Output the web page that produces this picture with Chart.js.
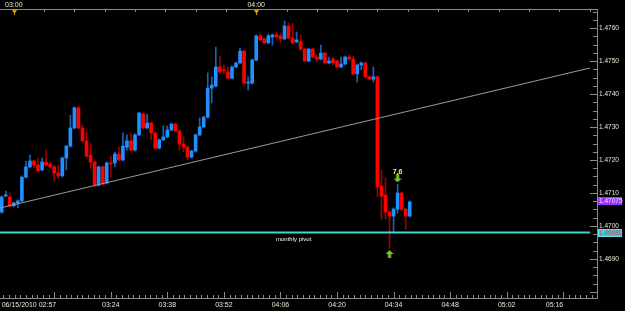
<!DOCTYPE html>
<html>
<head>
<meta charset="utf-8">
<script src="https://cdn.jsdelivr.net/npm/chart.js@4/dist/chart.umd.min.js"></script>
<style>
  html, body { margin: 0; padding: 0; background: #000; }
  canvas { display: block; }
</style>
</head>
<body>
<canvas id="c" width="625" height="311"></canvas>
<script>
// 1-minute EUR/USD-style candles, 06/15/2010 02:57 .. 04:38
const times = [
  '02:57','02:58','02:59','03:00','03:01','03:02','03:03','03:04','03:05','03:06',
  '03:07','03:08','03:09','03:10','03:11','03:12','03:13','03:14','03:15','03:16',
  '03:17','03:18','03:19','03:20','03:21','03:22','03:23','03:24','03:25','03:26',
  '03:27','03:28','03:29','03:30','03:31','03:32','03:33','03:34','03:35','03:36',
  '03:37','03:38','03:39','03:40','03:41','03:42','03:43','03:44','03:45','03:46',
  '03:47','03:48','03:49','03:50','03:51','03:52','03:53','03:54','03:55','03:56',
  '03:57','03:58','03:59','04:00','04:01','04:02','04:03','04:04','04:05','04:06',
  '04:07','04:08','04:09','04:10','04:11','04:12','04:13','04:14','04:15','04:16',
  '04:17','04:18','04:19','04:20','04:21','04:22','04:23','04:24','04:25','04:26',
  '04:27','04:28','04:29','04:30','04:31','04:32','04:33','04:34','04:35','04:36',
  '04:37','04:38'
];
const open = [
  1.47042,1.47091,1.47088,1.47061,1.47070,1.47076,1.47148,1.47179,1.47197,1.47185,
  1.47170,1.47194,1.47188,1.47179,1.47161,1.47152,1.47206,1.47242,1.47297,1.47358,
  1.47297,1.47258,1.47215,1.47194,1.47124,1.47179,1.47130,1.47191,1.47191,1.47218,
  1.47200,1.47239,1.47258,1.47230,1.47276,1.47339,1.47297,1.47312,1.47282,1.47236,
  1.47261,1.47270,1.47291,1.47309,1.47288,1.47248,1.47239,1.47209,1.47227,1.47276,
  1.47300,1.47330,1.47418,1.47424,1.47482,1.47473,1.47467,1.47448,1.47482,1.47494,
  1.47530,1.47433,1.47433,1.47503,1.47576,1.47567,1.47555,1.47573,1.47579,1.47576,
  1.47567,1.47606,1.47570,1.47558,1.47558,1.47536,1.47500,1.47536,1.47512,1.47506,
  1.47524,1.47494,1.47506,1.47500,1.47482,1.47491,1.47512,1.47506,1.47461,1.47488,
  1.47494,1.47452,1.47445,1.47452,1.47121,1.47094,1.47042,1.47030,1.47051,1.47100,
  1.47051,1.47030
];
const high = [
  1.47091,1.47106,1.47100,1.47073,1.47079,1.47152,1.47197,1.47215,1.47200,1.47206,
  1.47206,1.47230,1.47194,1.47185,1.47185,1.47209,1.47245,1.47336,1.47361,1.47364,
  1.47306,1.47285,1.47252,1.47197,1.47182,1.47182,1.47194,1.47212,1.47224,1.47239,
  1.47282,1.47276,1.47279,1.47279,1.47345,1.47342,1.47339,1.47315,1.47285,1.47264,
  1.47303,1.47303,1.47312,1.47312,1.47291,1.47270,1.47242,1.47230,1.47279,1.47327,
  1.47333,1.47464,1.47452,1.47542,1.47515,1.47488,1.47482,1.47485,1.47497,1.47539,
  1.47533,1.47452,1.47506,1.47579,1.47582,1.47570,1.47582,1.47582,1.47588,1.47585,
  1.47621,1.47615,1.47615,1.47588,1.47579,1.47539,1.47539,1.47539,1.47518,1.47548,
  1.47527,1.47512,1.47512,1.47503,1.47512,1.47515,1.47518,1.47515,1.47491,1.47497,
  1.47497,1.47455,1.47482,1.47455,1.47170,1.47145,1.47045,1.47055,1.47127,1.47103,
  1.47055,1.47076
];
const low = [
  1.47039,1.47088,1.47058,1.47058,1.47055,1.47073,1.47145,1.47176,1.47176,1.47164,
  1.47167,1.47182,1.47176,1.47136,1.47145,1.47148,1.47170,1.47239,1.47294,1.47294,
  1.47255,1.47209,1.47176,1.47121,1.47121,1.47124,1.47127,1.47148,1.47179,1.47197,
  1.47197,1.47230,1.47227,1.47227,1.47273,1.47294,1.47294,1.47261,1.47233,1.47233,
  1.47258,1.47267,1.47288,1.47285,1.47230,1.47224,1.47200,1.47206,1.47224,1.47273,
  1.47297,1.47327,1.47373,1.47421,1.47464,1.47461,1.47445,1.47445,1.47479,1.47491,
  1.47430,1.47412,1.47430,1.47500,1.47561,1.47552,1.47552,1.47548,1.47570,1.47555,
  1.47564,1.47567,1.47552,1.47555,1.47533,1.47497,1.47497,1.47509,1.47497,1.47503,
  1.47491,1.47491,1.47488,1.47479,1.47479,1.47488,1.47503,1.47458,1.47436,1.47473,
  1.47448,1.47442,1.47436,1.47088,1.47021,1.47021,1.46933,1.46982,1.47039,1.47048,
  1.46991,1.47027
];
const close = [
  1.47088,1.47094,1.47061,1.47070,1.47076,1.47148,1.47179,1.47197,1.47185,1.47167,
  1.47194,1.47185,1.47179,1.47161,1.47152,1.47206,1.47242,1.47297,1.47358,1.47297,
  1.47258,1.47212,1.47194,1.47124,1.47179,1.47127,1.47191,1.47188,1.47218,1.47200,
  1.47242,1.47258,1.47230,1.47276,1.47342,1.47297,1.47312,1.47282,1.47236,1.47261,
  1.47270,1.47291,1.47309,1.47288,1.47248,1.47239,1.47209,1.47227,1.47276,1.47300,
  1.47330,1.47418,1.47427,1.47482,1.47467,1.47470,1.47448,1.47482,1.47494,1.47530,
  1.47433,1.47436,1.47503,1.47576,1.47564,1.47555,1.47576,1.47579,1.47573,1.47567,
  1.47606,1.47570,1.47555,1.47564,1.47536,1.47500,1.47536,1.47512,1.47506,1.47524,
  1.47494,1.47500,1.47494,1.47482,1.47491,1.47512,1.47506,1.47461,1.47488,1.47494,
  1.47452,1.47445,1.47452,1.47118,1.47091,1.47042,1.47030,1.47051,1.47100,1.47051,
  1.47030,1.47073
];

// axis ticks (x values are minutes after 02:57)
const bottomTickMinutes = [0, 27, 41, 55, 69, 83, 97, 111, 125, 139];
const bottomTickLabels = ['06/15/2010 02:57', '03:24', '03:38', '03:52', '04:06', '04:20', '04:34', '04:48', '05:02', '05:16'];
const topTickMinutes = [3, 63];
const topTickLabels = ['03:00', '04:00'];
const priceTicks = [1.4690, 1.4700, 1.4710, 1.4720, 1.4730, 1.4740, 1.4750, 1.4760];

// drawn objects
const trendX = [-0.42, 145.6];
const trendY = [1.470545, 1.474788];
const pivotPrice = 1.46980;
const pivotLabel = 'monthly pivot';
const lastPrice = 1.47075;
const signalUp = { x: 96, y: 1.46915 };
const signalDown = { x: 98, y: 1.47144, text: '7.6', textY: 1.47164 };

const X_MIN = -0.42, X_MAX = 147.35;
const Y_MIN = 1.467818, Y_MAX = 1.476576;

const BLUE = '#1e90ff', RED = '#ff0000';
const BLUE_WICK = '#1a62b8', RED_WICK = '#a00000';
const AXIS = '#8a8a8a';
const LABEL = '#e8e8d4';
const FONT = 'Liberation Sans, Arial, sans-serif';

function arrowCanvas(up) {
  const cv = document.createElement('canvas');
  cv.width = 8; cv.height = 8;
  const g = cv.getContext('2d');
  g.fillStyle = '#7dcc1e';
  g.beginPath();
  if (up) {
    g.moveTo(4, 0); g.lineTo(8, 4); g.lineTo(5.5, 4); g.lineTo(5.5, 8);
    g.lineTo(2.5, 8); g.lineTo(2.5, 4); g.lineTo(0, 4);
  } else {
    g.moveTo(4, 8); g.lineTo(8, 4); g.lineTo(5.5, 4); g.lineTo(5.5, 0);
    g.lineTo(2.5, 0); g.lineTo(2.5, 4); g.lineTo(0, 4);
  }
  g.closePath(); g.fill();
  return cv;
}

const wickData = times.map((t, i) => ({ x: i, y: [low[i], high[i]] }));
const bodyData = times.map((t, i) => ({ x: i, y: [open[i], close[i]] }));
const isUp = (i) => close[i] >= open[i];

// ticks, price boxes and text notes
const decor = {
  id: 'decor',
  afterDraw(chart) {
    const c = chart.ctx, a = chart.chartArea;
    const xs = chart.scales.x, ys = chart.scales.y;
    c.save();
    c.strokeStyle = AXIS;
    c.lineWidth = 1;
    c.beginPath();
    // bottom: minor every 1.4 min, major every 14 min (anchored on 03:10)
    for (let k = -10; k <= 100; k++) {
      const m = 13 + 1.4 * k;
      if (m < X_MIN || m > X_MAX) continue;
      const px = Math.round(xs.getPixelForValue(m)) + 0.5;
      const len = k % 10 === 0 ? 6 : 3;
      c.moveTo(px, a.bottom); c.lineTo(px, a.bottom - len);
    }
    // top: every 7.5 min
    for (let k = -1; k <= 20; k++) {
      const m = 3 + 7.5 * k;
      if (m < X_MIN || m > X_MAX) continue;
      const px = Math.round(xs.getPixelForValue(m)) + 0.5;
      c.moveTo(px, a.top); c.lineTo(px, a.top + 3);
    }
    // right: every 2.5 pips, long on labelled levels
    for (let k = 0; k <= 36; k++) {
      const v = 1.4680 + 0.00025 * k;
      if (v < Y_MIN || v > Y_MAX) continue;
      const py = Math.round(ys.getPixelForValue(v)) + 0.5;
      const len = k % 4 === 0 ? 7 : 4;
      c.moveTo(a.right, py); c.lineTo(a.right - len, py);
    }
    c.stroke();

    // session markers on the top axis
    c.fillStyle = '#d4a017';
    topTickMinutes.forEach((m) => {
      const px = Math.round(xs.getPixelForValue(m)) + 0.5;
      c.beginPath();
      c.moveTo(px - 2.5, a.top + 1); c.lineTo(px + 2.5, a.top + 1); c.lineTo(px, a.top + 5);
      c.closePath(); c.fill();
      c.fillRect(px - 0.5, a.top + 4, 1, 2);
    });

    // price boxes on the right axis
    const box = (v, bg, fg, border) => {
      const py = Math.round(ys.getPixelForValue(v));
      c.fillStyle = bg;
      c.fillRect(a.right + 1, py - 4, 24, 8);
      if (border) { c.strokeStyle = border; c.strokeRect(a.right + 1.5, py - 3.5, 23, 7); }
      c.fillStyle = fg;
      c.font = '6.5px ' + FONT;
      c.textAlign = 'left';
      c.textBaseline = 'middle';
      c.fillText(v.toFixed(5), a.right + 2, py + 0.5);
    };
    box(lastPrice, '#9b30ff', '#f0e0ff');
    box(pivotPrice, '#3ccfcf', '#d0406a', '#50e8e8');

    // notes
    c.textAlign = 'left';
    c.textBaseline = 'middle';
    c.fillStyle = '#ffffff';
    c.font = '6px ' + FONT;
    c.fillText(pivotLabel, xs.getPixelForValue(67.9), ys.getPixelForValue(1.46961));
    c.textAlign = 'center';
    c.fillStyle = '#f0f070';
    c.font = 'bold 7px ' + FONT;
    c.fillText(signalDown.text, xs.getPixelForValue(signalDown.x), ys.getPixelForValue(signalDown.textY));
    c.restore();
  }
};

new Chart(document.getElementById('c'), {
  type: 'bar',
  data: {
    datasets: [
      {
        type: 'line', order: 0,
        data: trendX.map((x, i) => ({ x, y: trendY[i] })),
        borderColor: '#9a9a9a', borderWidth: 1, pointRadius: 0
      },
      {
        type: 'line', order: 0,
        data: trendX.map((x) => ({ x, y: pivotPrice })),
        borderColor: '#3fd8d8', borderWidth: 2, pointRadius: 0
      },
      {
        type: 'line', order: 0, showLine: false,
        data: [signalDown],
        pointStyle: arrowCanvas(false), pointRadius: 4
      },
      {
        type: 'line', order: 0, showLine: false,
        data: [signalUp],
        pointStyle: arrowCanvas(true), pointRadius: 4
      },
      {
        order: 1, grouped: false,
        data: bodyData,
        barThickness: 3, minBarLength: 1,
        backgroundColor: (ctx) => (isUp(ctx.dataIndex) ? BLUE : RED)
      },
      {
        order: 2, grouped: false,
        data: wickData,
        barThickness: 1,
        backgroundColor: (ctx) => (isUp(ctx.dataIndex) ? BLUE_WICK : RED_WICK)
      }
    ]
  },
  options: {
    responsive: false,
    animation: false,
    layout: { padding: 0, autoPadding: false },
    plugins: { legend: { display: false }, tooltip: { enabled: false } },
    scales: {
      x: {
        type: 'linear', position: 'bottom', min: X_MIN, max: X_MAX, offset: false,
        afterFit: (s) => { s.height = 13; s.paddingLeft = 0; s.paddingRight = 0; },
        afterBuildTicks: (s) => { s.ticks = bottomTickMinutes.map((v) => ({ value: v })); },
        ticks: {
          autoSkip: false, maxRotation: 0, align: 'inner', padding: 0,
          color: LABEL, font: { family: FONT, size: 7 },
          callback: (v, i) => bottomTickLabels[i]
        },
        grid: { display: true, drawOnChartArea: false, drawTicks: true, tickLength: 3, tickColor: 'rgba(0,0,0,0)', offset: false },
        border: { color: AXIS }
      },
      xTop: {
        type: 'linear', position: 'top', min: X_MIN, max: X_MAX, offset: false,
        afterFit: (s) => { s.height = 9; s.paddingLeft = 0; s.paddingRight = 0; },
        afterBuildTicks: (s) => { s.ticks = topTickMinutes.map((v) => ({ value: v })); },
        ticks: {
          autoSkip: false, maxRotation: 0, padding: 0,
          color: LABEL, font: { family: FONT, size: 7 },
          callback: (v, i) => topTickLabels[i]
        },
        grid: { display: true, drawOnChartArea: false, drawTicks: false },
        border: { color: AXIS }
      },
      y: {
        position: 'right', min: Y_MIN, max: Y_MAX,
        afterFit: (s) => { s.width = 28; s.paddingTop = 0; s.paddingBottom = 0; },
        afterBuildTicks: (s) => { s.ticks = priceTicks.map((v) => ({ value: v })); },
        ticks: {
          padding: 2, color: LABEL, font: { family: FONT, size: 6.5 },
          callback: (v) => v.toFixed(4)
        },
        grid: { display: true, drawOnChartArea: false, drawTicks: false },
        border: { color: AXIS }
      }
    }
  },
  plugins: [decor]
});
</script>
</body>
</html>
